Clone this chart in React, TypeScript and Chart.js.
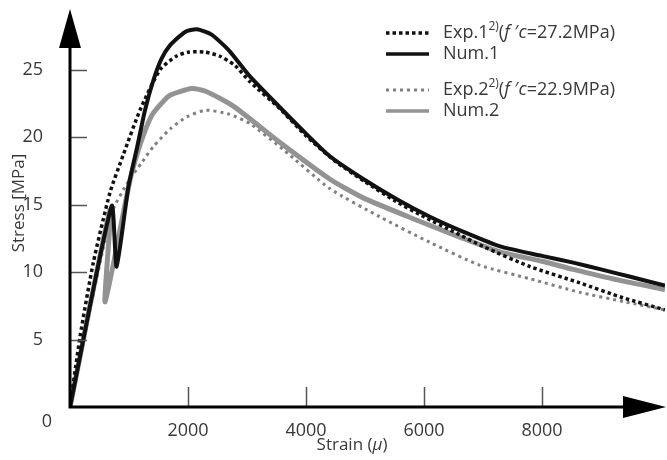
import React, { useEffect, useRef } from 'react';
import { Chart, registerables } from 'chart.js';

Chart.register(...registerables);

// ---- data (strain in micro, stress in MPa) ----
const exp1Strain = [0, 170, 395, 678, 904, 1186, 1525, 1800, 2000, 2300, 2542, 2800, 3051, 3560, 4000, 4500, 5000, 5500, 6000, 6500, 7000, 7800, 8640, 9370, 10085];
const exp1Stress = [0, 5.2, 10.7, 15.9, 18.7, 22.0, 25.0, 26.0, 26.3, 26.3, 26.0, 25.3, 24.1, 22.1, 20.1, 18.2, 16.7, 15.3, 14.1, 13.0, 11.9, 10.4, 9.2, 8.1, 7.2];

const num1Strain = [0, 706, 790, 989, 1150, 1271, 1412, 1550, 1695, 1950, 2150, 2400, 2700, 3050, 3560, 3900, 4400, 4970, 5540, 6100, 6660, 7290, 8000, 8530, 9000, 9500, 10085];
const num1Stress = [0, 14.9, 10.4, 16.3, 19.5, 22.0, 24.2, 25.8, 26.8, 27.8, 28.0, 27.6, 26.4, 24.5, 22.2, 20.7, 18.6, 16.9, 15.4, 14.1, 13.0, 11.9, 11.2, 10.7, 10.2, 9.65, 9.0];

const exp2Strain = [0, 700, 1000, 1214, 1412, 1695, 1977, 2300, 2700, 3051, 3610, 4400, 5250, 6100, 6950, 7800, 8640, 9400, 10085];
const exp2Stress = [0, 14.3, 16.8, 18.1, 19.3, 20.6, 21.5, 22.0, 21.7, 21.0, 19.1, 16.2, 14.1, 12.2, 10.5, 9.5, 8.5, 7.8, 7.2];

const num2Strain = [0, 680, 595, 1017, 1200, 1384, 1550, 1695, 2062, 2300, 2768, 3560, 4400, 4970, 5850, 6660, 7290, 8000, 8530, 9300, 10085];
const num2Stress = [0, 14.6, 7.8, 16.8, 19.6, 21.6, 22.5, 23.1, 23.6, 23.4, 22.3, 19.6, 16.9, 15.5, 13.9, 12.5, 11.5, 10.8, 10.2, 9.4, 8.7];

const xTickValues = [2000, 4000, 6000, 8000];
const yTickValues = [5, 10, 15, 20, 25];
const xMax = 10085;
const yMax = 29.5;

const legendLabels = [
  { name: 'Exp.1', sup: '2)', fc: '=27.2MPa)' },
  { name: 'Num.1' },
  { name: 'Exp.2', sup: '2)', fc: '=22.9MPa)' },
  { name: 'Num.2' },
];

const FONT = '"Open Sans", "DejaVu Sans", sans-serif';
const TEXT = '#383838';
const FS = 18;
const TS = 17;

const toPoints = (xs: number[], ys: number[]) => xs.map((x, i) => ({ x, y: ys[i] }));

type Seg = { t: string; italic?: boolean; sup?: boolean };

function drawRich(ctx: CanvasRenderingContext2D, segs: Seg[], x: number, y: number, size: number) {
  let cx = x;
  for (const s of segs) {
    const fs = s.sup ? Math.round(size * 0.68) : size;
    ctx.font = `${s.italic ? 'italic ' : ''}${fs}px ${FONT}`;
    ctx.fillText(s.t, cx, s.sup ? y - size * 0.38 : y);
    cx += ctx.measureText(s.t).width;
  }
  return cx - x;
}

function measureRich(ctx: CanvasRenderingContext2D, segs: Seg[], size: number) {
  let w = 0;
  for (const s of segs) {
    const fs = s.sup ? Math.round(size * 0.68) : size;
    ctx.font = `${s.italic ? 'italic ' : ''}${fs}px ${FONT}`;
    w += ctx.measureText(s.t).width;
  }
  return w;
}

const decorPlugin = {
  id: 'decor',
  afterDatasetsDraw(chart: any) {
    const ctx: CanvasRenderingContext2D = chart.ctx;
    const xs = chart.scales.x;
    const ys = chart.scales.y;
    const { left, bottom } = chart.chartArea;
    ctx.save();

    // tick marks
    ctx.strokeStyle = '#555';
    ctx.lineWidth = 1.5;
    for (const v of yTickValues) {
      const py = Math.round(ys.getPixelForValue(v)) + 0.5;
      ctx.beginPath();
      ctx.moveTo(left, py);
      ctx.lineTo(left + 17, py);
      ctx.stroke();
    }
    for (const v of xTickValues) {
      const px = Math.round(xs.getPixelForValue(v)) + 0.5;
      ctx.beginPath();
      ctx.moveTo(px, bottom);
      ctx.lineTo(px, bottom - 20);
      ctx.stroke();
    }

    // axes
    ctx.strokeStyle = '#000';
    ctx.lineWidth = 3;
    ctx.beginPath();
    ctx.moveTo(left, 46);
    ctx.lineTo(left, bottom);
    ctx.lineTo(626, bottom);
    ctx.stroke();
    ctx.fillStyle = '#000';
    ctx.beginPath();
    ctx.moveTo(left, 9);
    ctx.lineTo(left - 11, 48);
    ctx.lineTo(left + 11, 48);
    ctx.closePath();
    ctx.fill();
    ctx.beginPath();
    ctx.moveTo(666, bottom);
    ctx.lineTo(623, bottom - 11);
    ctx.lineTo(623, bottom + 11);
    ctx.closePath();
    ctx.fill();

    // origin label
    ctx.fillStyle = TEXT;
    ctx.font = `${FS}px ${FONT}`;
    ctx.textAlign = 'center';
    ctx.textBaseline = 'middle';
    ctx.fillText('0', 47, 422);

    // axis titles
    ctx.font = `${TS}px ${FONT}`;
    ctx.save();
    ctx.translate(19, 203);
    ctx.rotate(-Math.PI / 2);
    ctx.fillText('Stress [MPa]', 0, 0);
    ctx.restore();

    ctx.textAlign = 'left';
    const xt: Seg[] = [{ t: 'Strain (' }, { t: 'μ', italic: true }, { t: ')' }];
    const w = measureRich(ctx, xt, TS);
    drawRich(ctx, xt, 352 - w / 2, 445, TS);

    // legend
    const rows = [33, 54, 90, 111];
    const dsets = chart.data.datasets;
    legendLabels.forEach((lab, i) => {
      const ds = dsets[i];
      const y = rows[i];
      ctx.save();
      ctx.strokeStyle = ds.borderColor;
      ctx.lineWidth = Math.min(ds.borderWidth, 3.5);
      ctx.setLineDash(ds.borderDash || []);
      ctx.beginPath();
      ctx.moveTo(386, y);
      ctx.lineTo(429, y);
      ctx.stroke();
      ctx.restore();
      ctx.fillStyle = TEXT;
      const segs: Seg[] = lab.sup
        ? [{ t: lab.name }, { t: lab.sup, sup: true }, { t: '(' }, { t: 'f ', italic: true }, { t: '′' }, { t: 'c', italic: true }, { t: lab.fc as string }]
        : [{ t: lab.name }];
      drawRich(ctx, segs, 443, y, FS);
    });

    ctx.restore();
  },
};

export default function App() {
  const ref = useRef<HTMLCanvasElement | null>(null);
  useEffect(() => {
    if (!ref.current) return;
    const chart = new Chart(ref.current, {
      type: 'line',
      data: {
        datasets: [
          { label: 'Exp.1', data: toPoints(exp1Strain, exp1Stress), borderColor: '#111111', borderWidth: 3.5, borderDash: [3.5, 3], pointRadius: 0, tension: 0.2, order: 1, fill: false },
          { label: 'Num.1', data: toPoints(num1Strain, num1Stress), borderColor: '#111111', borderWidth: 4, pointRadius: 0, tension: 0.2, order: 0, fill: false },
          { label: 'Exp.2', data: toPoints(exp2Strain, exp2Stress), borderColor: '#808080', borderWidth: 3, borderDash: [3, 4], pointRadius: 0, tension: 0.2, order: 3, fill: false },
          { label: 'Num.2', data: toPoints(num2Strain, num2Stress), borderColor: '#939393', borderWidth: 5, pointRadius: 0, tension: 0.2, order: 2, fill: false },
        ],
      },
      options: {
        animation: false,
        responsive: false,
        layout: { padding: { top: 9, right: 2, left: 0, bottom: 0 } },
        plugins: { legend: { display: false }, tooltip: { enabled: false } },
        scales: {
          x: {
            type: 'linear',
            min: 0,
            max: xMax,
            grid: { display: false },
            border: { display: false },
            afterBuildTicks: (s: any) => { s.ticks = xTickValues.map((v) => ({ value: v })); },
            afterFit: (s: any) => { s.height = 53; s.paddingLeft = 0; s.paddingRight = 0; },
            ticks: { padding: 5, color: TEXT, font: { family: FONT, size: FS }, maxRotation: 0, autoSkip: false, callback: (v: any) => String(v) },
          },
          y: {
            type: 'linear',
            min: 0,
            max: yMax,
            grid: { display: false },
            border: { display: false },
            afterBuildTicks: (s: any) => { s.ticks = yTickValues.map((v) => ({ value: v })); },
            afterFit: (s: any) => { s.width = 70; s.paddingTop = 0; s.paddingBottom = 0; },
            ticks: { padding: 19, color: TEXT, font: { family: FONT, size: FS }, autoSkip: false, callback: (v: any) => String(v) },
          },
        },
      },
      plugins: [decorPlugin],
    } as any);
    return () => chart.destroy();
  }, []);
  return (
    <div style={{ position: 'fixed', left: 0, top: 0, width: 667, height: 460, background: '#fff' }}>
      <canvas ref={ref} width={667} height={460} style={{ display: 'block', width: 667, height: 460 }} />
    </div>
  );
}
